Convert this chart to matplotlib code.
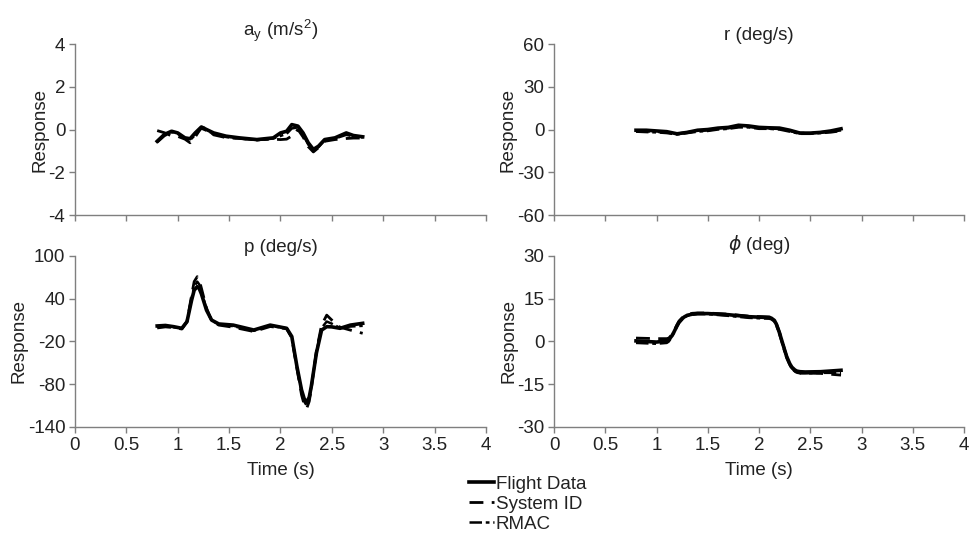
import numpy as np
import matplotlib
matplotlib.use('Agg')
import matplotlib.pyplot as plt

plt.rcParams['font.family'] = ['Liberation Sans', 'DejaVu Sans']
plt.rcParams['mathtext.fontset'] = 'dejavusans'

# ---- data ----
# a_y (m/s^2)
t_ay = [0.8, 0.87, 0.94, 1.0, 1.07, 1.12, 1.17, 1.23, 1.28, 1.35, 1.47, 1.6, 1.77, 1.93,
        2.0, 2.06, 2.11, 2.17, 2.22, 2.27, 2.32, 2.37, 2.43, 2.53, 2.64, 2.71, 2.8]
ay_flight = [-0.55, -0.23, -0.08, -0.16, -0.39, -0.43, -0.16, 0.12, 0.0, -0.16, -0.31, -0.39,
             -0.47, -0.39, -0.16, -0.08, 0.23, 0.16, -0.16, -0.62, -0.93, -0.78, -0.47,
             -0.39, -0.16, -0.28, -0.34]
ay_sysid = [-0.05, -0.15, -0.3, -0.32, -0.45, -0.62, -0.35, 0.1, 0.05, -0.25, -0.38, -0.42,
            -0.48, -0.45, -0.47, -0.45, -0.3, 0.0, -0.35, -0.8, -1.05, -0.85, -0.55, -0.47,
            -0.42, -0.4, -0.4]
ay_rmac = [-0.6, -0.3, -0.12, -0.2, -0.42, -0.5, -0.25, 0.05, -0.05, -0.2, -0.35, -0.42,
           -0.5, -0.42, -0.3, -0.2, 0.05, 0.1, -0.25, -0.7, -1.0, -0.82, -0.5, -0.42, -0.25,
           -0.32, -0.38]

# r (deg/s)
t_r = [0.8, 0.9, 1.0, 1.1, 1.2, 1.3, 1.4, 1.5, 1.6, 1.7, 1.8, 1.9, 2.0, 2.1, 2.2, 2.3, 2.4,
       2.5, 2.6, 2.7, 2.8]
r_flight = [-0.5, -0.5, -1.0, -1.5, -3.0, -2.0, -0.5, 0.0, 1.0, 1.5, 3.0, 2.5, 1.5, 1.2,
            1.0, -0.5, -2.5, -2.5, -2.0, -1.0, 0.5]
r_sysid = [-1.0, -1.2, -1.5, -2.0, -3.0, -2.0, -1.0, -0.5, 0.5, 1.0, 2.0, 2.0, 1.0, 0.8,
           0.5, -1.0, -2.5, -2.5, -2.0, -1.5, -0.5]
r_rmac = [-1.5, -1.8, -2.0, -2.5, -3.5, -2.5, -1.5, -1.0, 0.0, 0.5, 1.5, 1.5, 0.5, 0.5, 0.0,
          -1.5, -3.0, -3.0, -2.5, -2.0, -1.0]

# p (deg/s)
t_p = [0.8, 0.88, 0.96, 1.04, 1.09, 1.135, 1.16, 1.19, 1.21, 1.23, 1.28, 1.33, 1.4, 1.54,
       1.74, 1.9, 2.06, 2.11, 2.16, 2.205, 2.23, 2.255, 2.28, 2.3, 2.35, 2.4, 2.45, 2.5,
       2.58, 2.68, 2.8]
p_flight = [1.8, 2.5, 0.8, -1.5, 7.8, 38.0, 52.0, 57.0, 54.0, 47.0, 24.0, 10.0, 4.6, 3.0,
            -3.9, 3.0, -1.5, -13.0, -55.0, -88.0, -100.0, -106.0, -98.0, -83.0, -36.0,
            -4.0, 0.8, 0.5, -1.5, 3.0, 5.5]
p_sysid = [-1.0, 0.5, -0.5, -2.5, 8.0, 45.0, 64.0, 71.0, 66.0, 55.0, 27.0, 9.0, 3.0, 0.0,
           -6.0, 1.0, -2.0, -15.0, -58.0, -95.0, -108.0, -114.0, -104.0, -86.0, -33.0, 3.0,
           17.0, 10.0, 0.0, -4.0, -8.5]
p_rmac = [1.5, 2.0, 0.0, -1.5, 8.0, 41.0, 57.0, 64.0, 60.0, 51.0, 25.0, 9.5, 4.0, 1.5, -5.0,
          2.0, -1.5, -14.0, -56.0, -91.0, -104.0, -110.0, -101.0, -84.0, -35.0, -1.0, 8.0,
          5.0, -1.0, 1.0, 2.0]

# phi (deg)
t_phi = [0.8, 1.0, 1.1, 1.12, 1.15, 1.17, 1.2, 1.22, 1.25, 1.27, 1.3, 1.35, 1.4, 1.5, 1.7,
         1.9, 2.1, 2.12, 2.15, 2.17, 2.2, 2.22, 2.25, 2.27, 2.3, 2.32, 2.35, 2.37, 2.4, 2.45,
         2.6, 2.8]
phi_flight = [0.2, -0.2, 0.2, 0.6, 2.0, 3.3, 5.5, 6.8, 8.0, 8.6, 9.2, 9.6, 9.8, 9.8, 9.4,
              8.7, 8.4, 8.2, 7.4, 6.0, 3.0, 0.6, -3.0, -5.3, -7.8, -9.0, -10.0, -10.4, -10.6,
              -10.7, -10.6, -10.1]
phi_sysid = [1.2, 1.0, 1.0, 1.2, 2.4, 3.7, 5.9, 7.2, 8.3, 8.9, 9.5, 9.9, 10.0, 10.0, 9.6,
             8.9, 8.6, 8.4, 7.6, 6.2, 3.2, 0.8, -2.9, -5.3, -8.0, -9.3, -10.4, -10.9, -11.1,
             -11.1, -11.2, -11.8]
phi_rmac = [-0.5, -0.8, -0.5, 0.0, 1.6, 3.0, 5.2, 6.5, 7.7, 8.4, 9.0, 9.4, 9.6, 9.6, 9.0,
            8.3, 8.0, 7.8, 7.0, 5.6, 2.4, 0.0, -3.6, -5.9, -8.3, -9.5, -10.5, -10.9, -11.2,
            -11.2, -11.0, -11.0]

panels = [
    ('$\\mathregular{a_y\\ (m/s^2)}$', t_ay, ay_flight, ay_sysid, ay_rmac, [-4, -2, 0, 2, 4]),
    ('r (deg/s)', t_r, r_flight, r_sysid, r_rmac, [-60, -30, 0, 30, 60]),
    ('p (deg/s)', t_p, p_flight, p_sysid, p_rmac, [-140, -80, -20, 40, 100]),
    ('$\\phi$ (deg)', t_phi, phi_flight, phi_sysid, phi_rmac, [-30, -15, 0, 15, 30]),
]
xticks = [0, 0.5, 1, 1.5, 2, 2.5, 3, 3.5, 4]
xtick_labels = ['0', '0.5', '1', '1.5', '2', '2.5', '3', '3.5', '4']

fontsize = 13.5
txt_color = '#222222'
fig = plt.figure(figsize=(9.79, 5.35), dpi=100)

rects = [[0.0766, 0.5981, 0.4198, 0.3196],
         [0.5659, 0.5981, 0.4188, 0.3196],
         [0.0766, 0.2019, 0.4198, 0.3196],
         [0.5659, 0.2019, 0.4188, 0.3196]]

lines = []
for num, (title, t, fl, si, rm, yt) in enumerate(panels):
    ax = fig.add_axes(rects[num])
    l1, = ax.plot(t, fl, color='black', lw=2.6, ls='-', label='Flight Data')
    l2, = ax.plot(t, si, color='black', lw=2.0, ls=(0, (5, 3)), label='System ID')
    l3, = ax.plot(t, rm, color='black', lw=1.8, ls=(0, (5, 1.5, 1.5, 1.5)), label='RMAC')
    lines = [l1, l2, l3]

    ax.set(xlim=[0, 4], ylim=[yt[0], yt[-1]], yticks=yt, xticks=xticks)
    for s in ['top', 'right']:
        ax.spines[s].set_visible(False)
    for s in ['left', 'bottom']:
        ax.spines[s].set_color('#7f7f7f')
        ax.spines[s].set_linewidth(1.0)
    ax.tick_params(direction='out', length=4, width=1.0, color='#7f7f7f',
                   labelsize=fontsize, labelcolor=txt_color, pad=3)
    ax.set_yticklabels([str(v) for v in yt])
    if num < 2:
        ax.set_xticklabels([])
    else:
        ax.set_xticklabels(xtick_labels)
        ax.set_xlabel('Time (s)', fontsize=fontsize, color=txt_color, labelpad=6)
    ax.set_ylabel('Response', fontsize=fontsize, color=txt_color, labelpad=0)
    ax.set_title(title, fontsize=fontsize, color=txt_color, pad=3)

fig.legend(lines, ['Flight Data', 'System ID', 'RMAC'], loc='upper left',
           bbox_to_anchor=(0.469, 0.128), frameon=False, fontsize=fontsize,
           handlelength=1.35, handletextpad=0.1, labelspacing=0.15,
           borderpad=0, labelcolor=txt_color)

fig.savefig('out.png', dpi=100)
